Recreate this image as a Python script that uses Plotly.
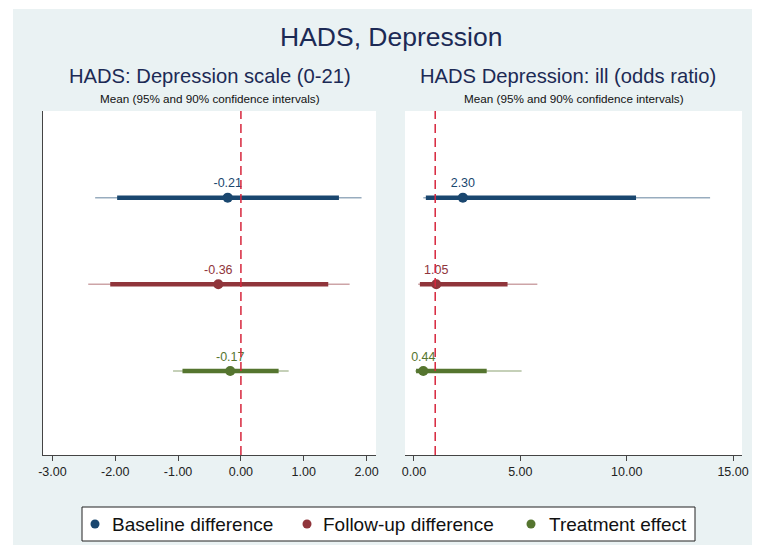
import plotly.graph_objects as go

groups = ["Baseline difference", "Follow-up difference", "Treatment effect"]
rows = [3, 2, 1]
colors = ["#1a476f", "#90353b", "#55752f"]
thin_colors = ["rgba(26,71,111,0.45)", "rgba(144,53,59,0.45)", "rgba(85,117,47,0.45)"]

# Left panel: HADS Depression scale (mean difference)
left_mean = [-0.21, -0.36, -0.17]
left_lo95 = [-2.32, -2.43, -1.08]
left_hi95 = [1.92, 1.73, 0.76]
left_lo90 = [-1.97, -2.08, -0.93]
left_hi90 = [1.56, 1.39, 0.60]
left_ref = 0
left_ticks = [-3, -2, -1, 0, 1, 2]

# Right panel: odds ratio
right_mean = [2.30, 1.05, 0.44]
right_lo95 = [0.44, 0.20, 0.06]
right_hi95 = [13.92, 5.80, 5.06]
right_lo90 = [0.56, 0.28, 0.10]
right_hi90 = [10.44, 4.40, 3.42]
right_ref = 1
right_ticks = [0, 5, 10, 15]

OFF = 8  # page body margin
W, H = 760, 539
ML, MT = 43 - OFF, 111 - OFF
MR = W - (742 - OFF)
MB = H - (455 - OFF)
PW = W - ML - MR
PH = H - MT - MB
BG = "#eaf2f3"


def px(x):
    return (x - OFF - ML) / PW


def py(y):
    return (H - MB - (y - OFF)) / PH


fig = go.Figure()

panels = [
    ("x", "y", left_mean, left_lo95, left_hi95, left_lo90, left_hi90),
    ("x2", "y2", right_mean, right_lo95, right_hi95, right_lo90, right_hi90),
]
for xa, ya, mean, lo95, hi95, lo90, hi90 in panels:
    for i in range(3):
        fig.add_trace(go.Scatter(x=[lo95[i], hi95[i]], y=[rows[i], rows[i]], mode="lines",
                                 line=dict(color=thin_colors[i], width=1.5),
                                 xaxis=xa, yaxis=ya, showlegend=False, hoverinfo="skip"))
        fig.add_trace(go.Scatter(x=[lo90[i], hi90[i]], y=[rows[i], rows[i]], mode="lines",
                                 line=dict(color=colors[i], width=4.5),
                                 xaxis=xa, yaxis=ya, showlegend=False, hoverinfo="skip"))
        fig.add_trace(go.Scatter(x=[mean[i]], y=[rows[i]], mode="markers+text",
                                 marker=dict(color=colors[i], size=10),
                                 text=[f"{mean[i]:.2f}"], textposition="top center",
                                 textfont=dict(color=colors[i], size=12.5),
                                 xaxis=xa, yaxis=ya, showlegend=False))

# reference lines
fig.add_shape(type="line", xref="x", yref="y domain", x0=left_ref, x1=left_ref, y0=0, y1=1,
              line=dict(color="#d7263d", width=1.5, dash="9px,5px"))
fig.add_shape(type="line", xref="x2", yref="y2 domain", x0=right_ref, x1=right_ref, y0=0, y1=1,
              line=dict(color="#d7263d", width=1.5, dash="9px,5px"))

# white outer margins (left, top, bottom) around the tinted graph region
for x0, x1, y0, y1 in [(0, 13, 0, 560), (0, 770, 0, 9), (0, 770, 545, 560)]:
    fig.add_shape(type="rect", xref="paper", yref="paper", x0=px(x0), x1=px(x1), y0=py(y1), y1=py(y0),
                  fillcolor="white", line=dict(width=0), layer="below")
x1d = px(376)
x2d = px(405)
fig.add_shape(type="rect", xref="paper", yref="paper", x0=0, x1=x1d, y0=0, y1=1,
              fillcolor="white", line=dict(width=0), layer="below")
fig.add_shape(type="rect", xref="paper", yref="paper", x0=x2d, x1=1, y0=0, y1=1,
              fillcolor="white", line=dict(width=0), layer="below")

axis_common = dict(showgrid=False, zeroline=False, ticks="outside", ticklen=5, tickcolor="#444",
                   showline=True, linecolor="#444", linewidth=1,
                   tickfont=dict(size=12.5, color="#222"), fixedrange=True)

fig.update_layout(
    width=W, height=H,
    margin=dict(l=ML, r=MR, t=MT, b=MB),
    paper_bgcolor=BG, plot_bgcolor="rgba(0,0,0,0)",
    font=dict(family="Liberation Sans, Arial, sans-serif"),
    xaxis=dict(domain=[0, x1d], range=[-3.15, 2.15], tickvals=left_ticks,
               ticktext=[f"{v:.2f}" for v in left_ticks], anchor="y", **axis_common),
    xaxis2=dict(domain=[x2d, 1], range=[-0.42, 15.42], tickvals=right_ticks,
                ticktext=[f"{v:.2f}" for v in right_ticks], anchor="y2", **axis_common),
    yaxis=dict(range=[0.03, 4.0], showticklabels=False, showgrid=False, zeroline=False,
               showline=True, linecolor="#444", ticks="", anchor="x", fixedrange=True),
    yaxis2=dict(range=[0.03, 4.0], showticklabels=False, showgrid=False, zeroline=False,
                showline=False, ticks="", anchor="x2", fixedrange=True),
    showlegend=False,
)

navy = "#1c2a55"
fig.add_annotation(text="HADS, Depression", xref="paper", yref="paper", x=px(391), y=py(37),
                   showarrow=False, font=dict(size=26.5, color=navy), xanchor="center", yanchor="middle")
fig.add_annotation(text="HADS: Depression scale (0-21)", xref="paper", yref="paper", x=px(210), y=py(76),
                   showarrow=False, font=dict(size=20.2, color=navy), xanchor="center", yanchor="middle")
fig.add_annotation(text="HADS Depression: ill (odds ratio)", xref="paper", yref="paper", x=px(568), y=py(76),
                   showarrow=False, font=dict(size=20.2, color=navy), xanchor="center", yanchor="middle")
for cx in (210, 573.5):
    fig.add_annotation(text="Mean (95% and 90% confidence intervals)", xref="paper", yref="paper",
                       x=px(cx), y=py(99), showarrow=False, font=dict(size=11.7, color="#111"),
                       xanchor="center", yanchor="middle")

# manual legend
fig.add_shape(type="rect", xref="paper", yref="paper", x0=px(82), x1=px(695), y0=py(541), y1=py(507),
              fillcolor="white", line=dict(color="#222", width=1))
leg_marker_x = [95, 307, 531]
leg_text_x = [110, 321, 547]
for i in range(3):
    fig.add_shape(type="circle", xref="paper", yref="paper", xsizemode="pixel", ysizemode="pixel",
                  xanchor=px(leg_marker_x[i]), yanchor=py(524), x0=-4.5, x1=4.5, y0=-4.5, y1=4.5,
                  fillcolor=colors[i], line=dict(width=0))
    fig.add_annotation(text=groups[i], xref="paper", yref="paper", x=px(leg_text_x[i]), y=py(524),
                       showarrow=False, xanchor="left", yanchor="middle",
                       font=dict(size=19, color="#111"))

fig.write_html("out.html")
